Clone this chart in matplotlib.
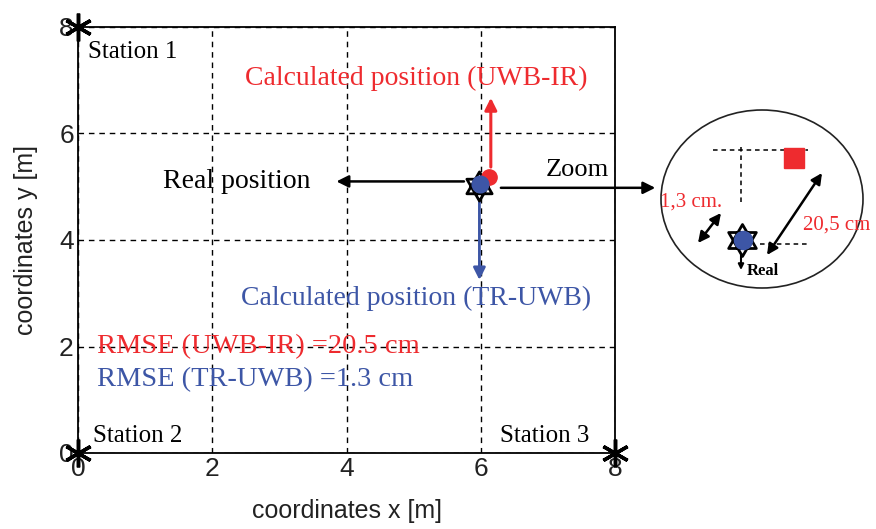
import matplotlib
matplotlib.use("Agg")
import matplotlib.pyplot as plt
from matplotlib.path import Path
from matplotlib.patches import Ellipse
import numpy as np

# ---------------- data ----------------
station_x = [0, 0, 8]
station_y = [8, 0, 0]
station_labels = ["Station 1", "Station 2", "Station 3"]
real_pos = (5.98, 5.01)
calc_uwb_ir = (6.13, 5.18)
calc_tr_uwb = (5.99, 5.05)
x_ticks = [0, 2, 4, 6, 8]
y_ticks = [0, 2, 4, 6, 8]
rmse_uwb_ir = 20.5
rmse_tr_uwb = 1.3

RED = "#ee2b2f"
BLUE = "#3d56a6"
SERIF = ["Liberation Serif", "DejaVu Serif"]
SANS = ["Liberation Sans", "DejaVu Sans"]

# hexagram marker (Star of David)
s3 = np.sqrt(3) / 2
hex_verts = [(0, 1), (-s3, -0.5), (s3, -0.5), (0, 1),
             (0, -1), (s3, 0.5), (-s3, 0.5), (0, -1)]
hex_codes = [Path.MOVETO, Path.LINETO, Path.LINETO, Path.CLOSEPOLY] * 2
HEXAGRAM = Path(hex_verts, hex_codes)

fig = plt.figure(figsize=(8.76, 5.29), dpi=100)
ax = fig.add_axes([78 / 876, 1 - 453 / 529, 537 / 876, 426 / 529])
ax.set_xlim(0, 8)
ax.set_ylim(0, 8)
ax.set_xticks(x_ticks)
ax.set_yticks(y_ticks)
ax.set_xticklabels([str(t) for t in x_ticks], fontsize=19, family=SANS, color="#222222")
ax.set_yticklabels([str(t) for t in y_ticks], fontsize=19, family=SANS, color="#222222")
ax.tick_params(length=0, pad=3)
for sp in ax.spines.values():
    sp.set_linewidth(1.3)
    sp.set_color("black")
ax.grid(True, color="black", linestyle=(0, (4, 3.5)), linewidth=1)
ax.set_xlabel("coordinates x [m]", fontsize=18, family=SANS, color="#222222", labelpad=13)
ax.set_ylabel("coordinates y [m]", fontsize=18, family=SANS, color="#222222", labelpad=15)

# stations
ax.plot(station_x, station_y, linestyle="none", marker=(6, 2, 0), markersize=20,
        markeredgewidth=2.5, color="black", clip_on=False, zorder=5)
ax.text(0.15, 7.53, station_labels[0], fontsize=18, family=SERIF, va="center", ha="left")
ax.text(0.22, 0.32, station_labels[1], fontsize=18, family=SERIF, va="center", ha="left")
ax.text(6.29, 0.32, station_labels[2], fontsize=18, family=SERIF, va="center", ha="left")

# arrows
def arrow(x0, y0, x1, y1, color, a=ax, lw=1.8, style="-|>", ms=14):
    a.annotate("", xy=(x1, y1), xytext=(x0, y0), annotation_clip=False,
               arrowprops=dict(arrowstyle=style, color=color, lw=lw,
                               mutation_scale=ms, shrinkA=0, shrinkB=0))

arrow(6.15, 5.37, 6.15, 6.67, RED, lw=2.2, ms=18)
arrow(5.98, 4.85, 5.98, 3.25, BLUE, lw=2.0, ms=18)
arrow(5.75, 5.1, 3.85, 5.1, "black", ms=18)
arrow(6.3, 4.98, 8.6, 4.98, "black", ms=18)

# positions
ax.plot(*real_pos, marker=HEXAGRAM, markersize=21, markerfacecolor="white",
        markeredgecolor="black", markeredgewidth=2, zorder=6)
ax.plot(*calc_uwb_ir, marker="o", markersize=11, color=RED, zorder=7)
ax.plot(*calc_tr_uwb, marker="o", markersize=12, color=BLUE, zorder=8)

# texts
ax.text(5.04, 7.04, "Calculated position (UWB-IR)", color=RED, fontsize=20,
        family=SERIF, ha="center", va="center")
ax.text(1.27, 5.09, "Real position", color="black", fontsize=20,
        family=SERIF, ha="left", va="center")
ax.text(6.96, 5.31, "Zoom", color="black", fontsize=19,
        family=SERIF, ha="left", va="center")
ax.text(5.04, 2.91, "Calculated position (TR-UWB)", color=BLUE, fontsize=20,
        family=SERIF, ha="center", va="center")
ax.text(0.28, 1.99, f"RMSE (UWB-IR) ={rmse_uwb_ir} cm", color=RED, fontsize=20.5,
        family=SERIF, ha="left", va="center")
ax.text(0.28, 1.37, f"RMSE (TR-UWB) ={rmse_tr_uwb} cm", color=BLUE, fontsize=20.5,
        family=SERIF, ha="left", va="center")

# ---------------- zoom inset ----------------
ins = fig.add_axes([640 / 876, 1 - 320 / 529, 236 / 876, 220 / 529])
ins.set_xlim(0, 236)
ins.set_ylim(220, 0)
ins.axis("off")
ins.add_patch(Ellipse((122, 99), 202, 178, fill=False, edgecolor="#222222",
                      linewidth=1.2, clip_on=False))
dash = (0, (3, 2.5))
ins.plot([73, 168], [50, 50], color="black", linestyle=dash, lw=1.1)
ins.plot([101, 101], [47, 103], color="black", linestyle=dash, lw=1.1)
ins.plot([120, 167], [144, 144], color="black", linestyle=dash, lw=1.1)
ins.plot(154, 58, marker="s", markersize=14, color=RED)
ins.plot(102, 140, marker=HEXAGRAM, markersize=23, markerfacecolor="white",
         markeredgecolor="black", markeredgewidth=2)
ins.plot(103, 140, marker="o", markersize=13, color=BLUE)
arrow(101, 155, 101, 170, "black", a=ins, lw=1.5, ms=8)
ins.text(123, 171, "Real", fontsize=12, fontweight="bold", family=SERIF,
         ha="center", va="center")
arrow(58, 143, 81, 113, "black", a=ins, lw=1.8, style="<|-|>", ms=16)
arrow(127, 155, 182, 73, "black", a=ins, lw=1.8, style="<|-|>", ms=16)
ins.text(51, 102, "1,3 cm.", color=RED, fontsize=15, family=SERIF,
         ha="center", va="center")
ins.text(163, 125, "20,5 cm", color=RED, fontsize=15, family=SERIF,
         ha="left", va="center", clip_on=False)

fig.savefig("out.png", dpi=100)
